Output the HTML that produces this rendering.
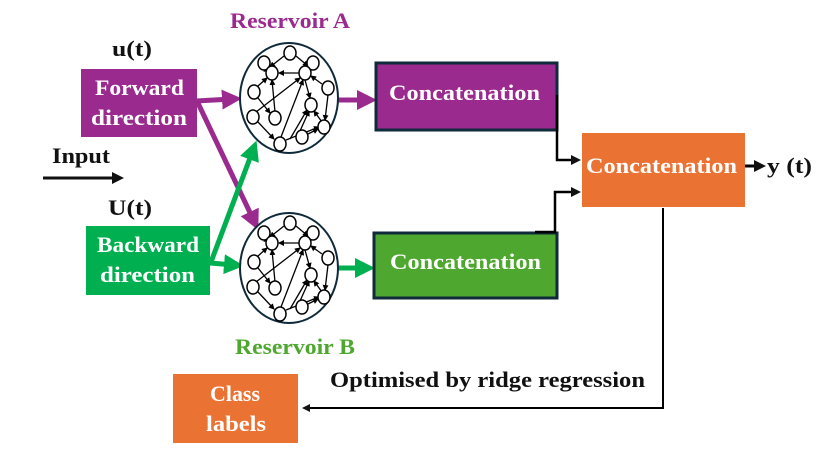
<!DOCTYPE html>
<html><head><meta charset="utf-8"><style>
html,body{margin:0;padding:0;background:#fff;}
svg{display:block;}
text{font-family:"Liberation Serif",serif;font-weight:bold;}
</style></head><body>
<svg width="822" height="469" viewBox="0 0 822 469" xmlns="http://www.w3.org/2000/svg">
<defs>
<marker id="ak" markerWidth="4" markerHeight="4" refX="2" refY="2" orient="auto" markerUnits="strokeWidth"><path d="M0,0 L4,2 L0,4 z" fill="#111"/></marker>
<marker id="ap" markerWidth="4" markerHeight="4" refX="2" refY="2" orient="auto" markerUnits="strokeWidth"><path d="M0,0 L4,2 L0,4 z" fill="#9b2a8f"/></marker>
<marker id="ag" markerWidth="4" markerHeight="4" refX="2" refY="2" orient="auto" markerUnits="strokeWidth"><path d="M0,0 L4,2 L0,4 z" fill="#00b050"/></marker>
<marker id="as" markerWidth="6" markerHeight="6" refX="5" refY="3" orient="auto" markerUnits="userSpaceOnUse"><path d="M0,0 L6,3 L0,6 z" fill="#000"/></marker>
<g id="res">
<ellipse cx="289" cy="98" rx="49" ry="55" fill="#fff" stroke="#0f2a3a" stroke-width="2"/>
<g stroke="#000" stroke-width="1.3" fill="none" marker-end="url(#as)">
<line x1="284" y1="56" x2="270" y2="67"/>
<line x1="296" y1="56" x2="308" y2="66"/>
<line x1="299" y1="73" x2="279" y2="73"/>
<line x1="264" y1="69" x2="269" y2="70"/>
<line x1="311" y1="66" x2="308" y2="70"/>
<line x1="258" y1="86" x2="267" y2="78"/>
<line x1="322" y1="84" x2="311" y2="76"/>
<line x1="328" y1="95" x2="325" y2="120"/>
<line x1="258" y1="98" x2="270" y2="113"/>
<line x1="256" y1="112" x2="300" y2="78"/>
<line x1="275" y1="112" x2="272" y2="80"/>
<line x1="281" y1="137" x2="303" y2="80"/>
<line x1="305" y1="80" x2="310" y2="98"/>
<line x1="258" y1="122" x2="274" y2="139"/>
<line x1="286" y1="140" x2="319" y2="127"/>
<line x1="290" y1="139" x2="307" y2="110"/>
<line x1="308" y1="134" x2="318" y2="129"/>
<line x1="322" y1="122" x2="314" y2="111"/>
<line x1="300" y1="131" x2="309" y2="111"/>
</g>
<g fill="#fff" stroke="#000" stroke-width="1.5">
<ellipse cx="290" cy="53" rx="6" ry="7"/><ellipse cx="264" cy="63" rx="6" ry="7"/>
<ellipse cx="313" cy="63" rx="6" ry="7"/><ellipse cx="272" cy="73" rx="6" ry="7"/>
<ellipse cx="305" cy="73" rx="6" ry="7"/><ellipse cx="328" cy="88" rx="6" ry="7"/>
<ellipse cx="254" cy="92" rx="6" ry="7"/><ellipse cx="311" cy="105" rx="6" ry="7"/>
<ellipse cx="253" cy="117" rx="6" ry="7"/><ellipse cx="275" cy="118" rx="6" ry="7"/>
<ellipse cx="324" cy="127" rx="6" ry="7"/><ellipse cx="302" cy="137" rx="6" ry="7"/>
<ellipse cx="280" cy="144" rx="6" ry="7"/>
</g>
</g>
</defs>

<line x1="196" y1="101" x2="232" y2="99" stroke="#9b2a8f" stroke-width="5" marker-end="url(#ap)"/>
<line x1="197" y1="101" x2="254" y2="221" stroke="#9b2a8f" stroke-width="5" marker-end="url(#ap)"/>
<line x1="211" y1="262" x2="253" y2="150" stroke="#00b050" stroke-width="5" marker-end="url(#ag)"/>
<line x1="210" y1="263" x2="234" y2="265" stroke="#00b050" stroke-width="5" marker-end="url(#ag)"/>
<line x1="338" y1="100" x2="367" y2="100" stroke="#9b2a8f" stroke-width="5" marker-end="url(#ap)"/>
<line x1="338" y1="268" x2="365" y2="268" stroke="#00b050" stroke-width="5" marker-end="url(#ag)"/>

<use href="#res"/>
<use href="#res" transform="translate(0,170)"/>

<rect x="81" y="69" width="116" height="68" fill="#9b2a8f"/>
<rect x="86" y="226" width="124" height="69" fill="#00b050"/>
<rect x="376" y="63" width="181" height="67" fill="#9b2a8f" stroke="#0f2a3a" stroke-width="3"/>
<rect x="374" y="233" width="183" height="65" fill="#4ea72e" stroke="#0f2a3a" stroke-width="3"/>
<rect x="582" y="133" width="163" height="74" fill="#ea7233"/>
<rect x="173" y="374" width="125" height="69" fill="#ea7233"/>

<polyline points="557,95 557,160 576,160" fill="none" stroke="#000" stroke-width="2.5" marker-end="url(#ak)"/>
<polyline points="535,232 555,232 555,192 576,192" fill="none" stroke="#000" stroke-width="2.5" marker-end="url(#ak)"/>
<line x1="745" y1="166" x2="760" y2="166" stroke="#000" stroke-width="3" marker-end="url(#ak)"/>
<polyline points="663,208 663,408 306,408" fill="none" stroke="#000" stroke-width="2" marker-end="url(#ak)"/>
<line x1="43" y1="178" x2="118" y2="178" stroke="#111" stroke-width="3" marker-end="url(#ak)"/>

<g font-size="22" lengthAdjust="spacingAndGlyphs">
<text x="230" y="28" textLength="120" lengthAdjust="spacingAndGlyphs" fill="#9b2a8f">Reservoir A</text>
<text x="235" y="354" textLength="120" lengthAdjust="spacingAndGlyphs" fill="#4ea72e">Reservoir B</text>
<text x="112" y="56" textLength="40" lengthAdjust="spacingAndGlyphs" fill="#111">u(t)</text>
<text x="52" y="163" textLength="58" lengthAdjust="spacingAndGlyphs" fill="#111">Input</text>
<text x="108" y="215" textLength="44" lengthAdjust="spacingAndGlyphs" fill="#111">U(t)</text>
<text x="95" y="95" textLength="89" lengthAdjust="spacingAndGlyphs" fill="#fff">Forward</text>
<text x="91" y="125" textLength="96" lengthAdjust="spacingAndGlyphs" fill="#fff">direction</text>
<text x="97" y="252" textLength="102" lengthAdjust="spacingAndGlyphs" fill="#fff">Backward</text>
<text x="100" y="282" textLength="95" lengthAdjust="spacingAndGlyphs" fill="#fff">direction</text>
<text x="389" y="100" textLength="151" lengthAdjust="spacingAndGlyphs" fill="#fff">Concatenation</text>
<text x="390" y="269" textLength="151" lengthAdjust="spacingAndGlyphs" fill="#fff">Concatenation</text>
<text x="586" y="173" textLength="151" lengthAdjust="spacingAndGlyphs" fill="#fff">Concatenation</text>
<text x="767" y="173" textLength="45" lengthAdjust="spacingAndGlyphs" fill="#111">y (t)</text>
<text x="330" y="387" textLength="315" lengthAdjust="spacingAndGlyphs" fill="#111">Optimised by ridge regression</text>
<text x="210" y="401" textLength="50" lengthAdjust="spacingAndGlyphs" fill="#fff">Class</text>
<text x="206" y="431" textLength="60" lengthAdjust="spacingAndGlyphs" fill="#fff">labels</text>
</g>
</svg>
</body></html>
